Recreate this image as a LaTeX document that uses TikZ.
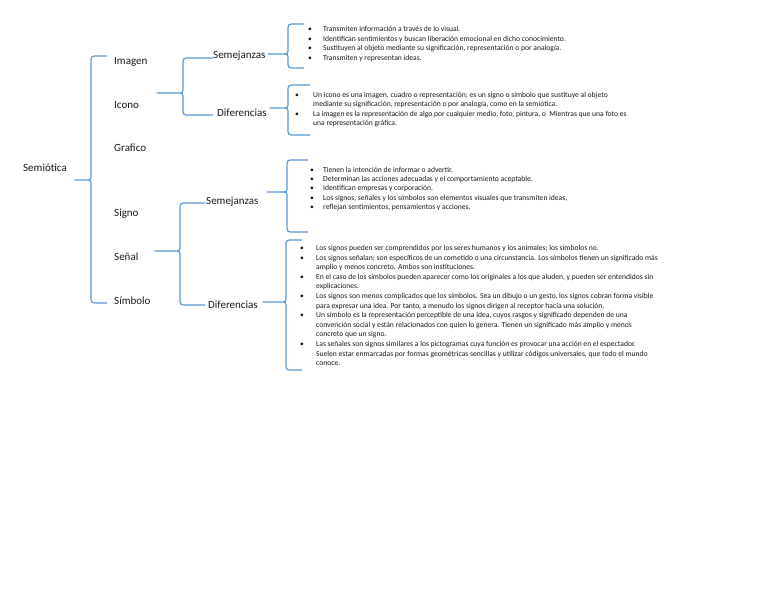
\documentclass[tikz,border=0pt]{standalone}
\usepackage{fontspec}
\setmainfont{Carlito}
\definecolor{brc}{HTML}{5B9BD5}
\definecolor{txt}{HTML}{1A1A1A}
\tikzset{
  brline/.style={draw=brc,line width=1.2pt,line join=round},
  lbl/.style={anchor=base west,inner sep=0pt,text=txt,font=\fontsize{11}{13}\selectfont},
  sm/.style={anchor=base west,inner sep=0pt,text=txt,font=\fontsize{7.6}{9}\selectfont},
  bul/.style={anchor=base west,inner sep=0pt,text=txt,font=\fontsize{7.6}{9}\selectfont}
}
% tipx, tipy, vertical x, end x, top y, bottom y
\newcommand{\mybrace}[6]{%
  \draw[brline] (#4,#5) -- ({#3+7},#5) .. controls (#3,#5) .. (#3,{#5+7})
    -- (#3,{#2-6}) .. controls (#3,#2) .. ({#3-6},#2) -- (#1,#2)
    -- ({#3-6},#2) .. controls (#3,#2) .. (#3,{#2+6})
    -- (#3,{#6-7}) .. controls (#3,#6) .. ({#3+7},#6) -- (#4,#6);}
\begin{document}
\begin{tikzpicture}[x=1pt,y=-1pt]
\useasboundingbox (0,0) rectangle (768,594);
\fill[white] (0,0) rectangle (768,594);
% first and second level labels
\node[lbl] (semiotica) at (23,171.5) {Semiótica};
\node[lbl] (imagen) at (114,64.5) {Imagen};
\node[lbl] (icono) at (114,108.5) {Icono};
\node[lbl] (grafico) at (114,151.5) {Grafico};
\node[lbl] (signo) at (114,216.5) {Signo};
\node[lbl] (senal) at (114,260.5) {Señal};
\node[lbl] (simbolo) at (114,304.5) {Símbolo};
\node[lbl] (sem1) at (213,58.5) {Semejanzas};
\node[lbl] (dif1) at (217,116.5) {Diferencias};
\node[lbl] (sem2) at (206,204.5) {Semejanzas};
\node[lbl] (dif2) at (208,308.5) {Diferencias};
% braces
\mybrace{75}{180}{91}{107}{56}{303}
\mybrace{157}{93}{183}{213}{58}{115}
\mybrace{155}{251}{180}{205}{203}{305}
\mybrace{268}{54}{288}{304}{24}{68}
\mybrace{270}{108}{288}{310}{85}{135}
\mybrace{267}{192}{287}{308}{160}{232}
\mybrace{263}{302}{286}{302}{240}{370}
% block 1
\node[bul] (b1a) at (308,31.5) {•};
\node[sm] (t1a) at (323,31.5) {Transmiten información a través de lo visual.};
\node[bul] (b1b) at (308,41.2) {•};
\node[sm] (t1b) at (323,41.2) {Identifican sentimientos y buscan liberación emocional en dicho conocimiento.};
\node[bul] (b1c) at (308,50.7) {•};
\node[sm] (t1c) at (323,50.7) {Sustituyen al objeto mediante su significación, representación o por analogía.};
\node[bul] (b1d) at (308,60.3) {•};
\node[sm] (t1d) at (323,60.3) {Transmiten y representan ideas.};
% block 2
\node[bul] (b2a) at (295,97.5) {•};
\node[sm] (t2a) at (313,97.5) {Un icono es una imagen, cuadro o representación; es un signo o símbolo que sustituye al objeto};
\node[sm] (t2b) at (313,106.8) {mediante su significación, representación o por analogía, como en la semiótica.};
\node[bul] (b2c) at (295,116) {•};
\node[sm] (t2c) at (313,116) {La imagen es la representación de algo por cualquier medio, foto, pintura, o \ Mientras que una foto es};
\node[sm] (t2d) at (313,125.3) {una representación gráfica.};
% block 3
\node[bul] (b3a) at (310,172.5) {•};
\node[sm] (t3a) at (323,172.5) {Tienen la intención de informar o advertir.};
\node[bul] (b3b) at (310,181.7) {•};
\node[sm] (t3b) at (323,181.7) {Determinan las acciones adecuadas y el comportamiento aceptable.};
\node[bul] (b3c) at (310,190.9) {•};
\node[sm] (t3c) at (323,190.9) {Identifican empresas y corporación.};
\node[bul] (b3d) at (310,200.1) {•};
\node[sm] (t3d) at (323,200.1) {Los signos, señales y los símbolos son elementos visuales que transmiten ideas,};
\node[bul] (b3e) at (310,209.3) {•};
\node[sm] (t3e) at (323,209.3) {reflejan sentimientos, pensamientos y acciones.};
% block 4
\node[bul] (b4a) at (300,250.5) {•};
\node[sm] (t4a) at (316,250.5) {Los signos pueden ser comprendidos por los seres humanos y los animales; los símbolos no.};
\node[bul] (b4b) at (300,260.1) {•};
\node[sm] (t4b) at (316,260.1) {Los signos señalan; son específicos de un cometido o una circunstancia. Los símbolos tienen un significado más};
\node[sm] (t4c) at (316,269.7) {amplio y menos concreto. Ambos son instituciones.};
\node[bul] (b4d) at (300,279.3) {•};
\node[sm] (t4d) at (316,279.3) {En el caso de los símbolos pueden aparecer como los originales a los que aluden, y pueden ser entendidos sin};
\node[sm] (t4e) at (316,288.9) {explicaciones.};
\node[bul] (b4f) at (300,298.5) {•};
\node[sm] (t4f) at (316,298.5) {Los signos son menos complicados que los símbolos. Sea un dibujo o un gesto, los signos cobran forma visible};
\node[sm] (t4g) at (316,308.1) {para expresar una idea. Por tanto, a menudo los signos dirigen al receptor hacia una solución.};
\node[bul] (b4h) at (300,317.7) {•};
\node[sm] (t4h) at (316,317.7) {Un símbolo es la representación perceptible de una idea, cuyos rasgos y significado dependen de una};
\node[sm] (t4i) at (316,327.3) {convención social y están relacionados con quien lo genera. Tienen un significado más amplio y menos};
\node[sm] (t4j) at (316,336.9) {concreto que un signo.};
\node[bul] (b4k) at (300,346.5) {•};
\node[sm] (t4k) at (316,346.5) {Las señales son signos similares a los pictogramas cuya función es provocar una acción en el espectador.};
\node[sm] (t4l) at (316,356.1) {Suelen estar enmarcadas por formas geométricas sencillas y utilizar códigos universales, que todo el mundo};
\node[sm] (t4m) at (316,365.7) {conoce.};
\end{tikzpicture}
\end{document}
